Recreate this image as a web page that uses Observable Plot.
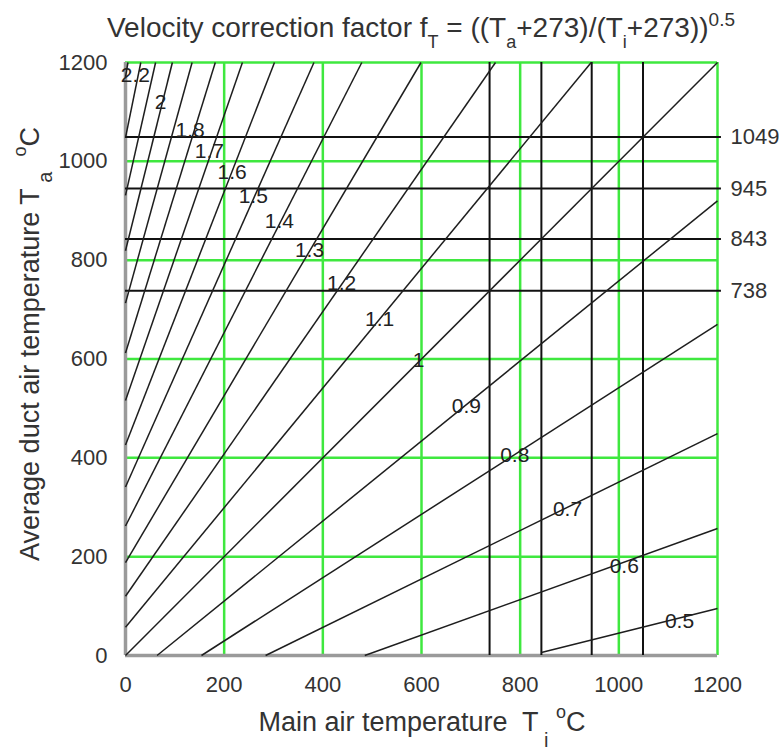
<!DOCTYPE html>
<html>
<head>
<meta charset="utf-8">
<script src="https://cdn.jsdelivr.net/npm/d3@7"></script>
<script src="https://cdn.jsdelivr.net/npm/@observablehq/plot@0.6"></script>
<style>
  html, body { margin: 0; padding: 0; background: white; }
  #chart { width: 779px; height: 751px; }
  text { font-family: "Liberation Sans", Arial, sans-serif; }
</style>
</head>
<body>
<div id="chart"></div>
<script>
// Velocity correction factor values of each straight line (f_T)
const fValues = [0.5, 0.6, 0.7, 0.8, 0.9, 1.0, 1.1, 1.2, 1.3, 1.4, 1.5, 1.6, 1.7, 1.8, 1.9, 2.0, 2.1, 2.2, 2.3];
// line end points (Ti = main air temp, Ta = duct air temp)
const startTi = [843, 485, 284, 154, 64, 0, 0, 0, 0, 0, 0, 0, 0, 0, 0, 0, 0, 0, 0];
const startTa = [6, 0, 0, 0, 0, 0, 57, 120, 188, 262, 341, 426, 516, 612, 713, 819, 931, 1048, 1171];
const endTi = [1200, 1200, 1200, 1200, 1200, 1200, 944, 750, 599, 479, 382, 302, 237, 182, 135, 95, 61, 31, 5];
const endTa = [95, 257, 449, 670, 920, 1200, 1200, 1200, 1200, 1200, 1200, 1200, 1200, 1200, 1200, 1200, 1200, 1200, 1200];

// in-chart labels of the lines
const labelText = ["2.2", "2", "1.8", "1.7", "1.6", "1.5", "1.4", "1.3", "1.2", "1.1", "1", "0.9", "0.8", "0.7", "0.6", "0.5"];
const labelTi = [20, 71, 131, 170, 216, 259, 312, 373, 438, 515, 594, 691, 789, 896, 1011, 1123];
const labelTa = [1174, 1119, 1062, 1020, 978, 929, 879, 821, 753, 680, 597, 505, 405, 295, 181, 69];

// marked reference temperatures
const refTemps = [738, 843, 945, 1049];

// axis ticks / grid
const tickValues = [0, 200, 400, 600, 800, 1000, 1200];
const gridValues = [200, 400, 600, 800, 1000, 1200];

const lines = fValues.map((f, i) => ({f, x1: startTi[i], y1: startTa[i], x2: endTi[i], y2: endTa[i]}));
const labels = labelText.map((t, i) => ({t, x: labelTi[i], y: labelTa[i]}));

const font = "Liberation Sans, Arial, sans-serif";
const green = "#3fe83f";

const chart = Plot.plot({
  width: 779,
  height: 751,
  marginLeft: 125,
  marginRight: 62,
  marginTop: 62,
  marginBottom: 96,
  style: {fontFamily: font, fontSize: "22px", color: "#333", background: "white"},
  x: {domain: [0, 1200]},
  y: {domain: [0, 1200]},
  marks: [
    Plot.ruleX(gridValues, {stroke: green, strokeWidth: 2.5}),
    Plot.ruleY(gridValues, {stroke: green, strokeWidth: 2.5}),
    Plot.ruleX([0], {stroke: "#9a9a9a", strokeWidth: 3.5}),
    Plot.ruleY([0], {stroke: "#9a9a9a", strokeWidth: 3.5}),
    Plot.ruleX(refTemps, {y1: 0, y2: 1200, stroke: "#111", strokeWidth: 2}),
    Plot.ruleY(refTemps, {x1: 0, x2: 1208, stroke: "#111", strokeWidth: 2}),
    Plot.link(lines, {x1: "x1", y1: "y1", x2: "x2", y2: "y2", stroke: "#1e1e1e", strokeWidth: 1.5}),
    Plot.text(labels, {x: "x", y: "y", text: "t", fontSize: 21, fill: "#222"}),
    Plot.text(refTemps, {x: 1200, y: d => d, text: d => String(d), dx: 13, textAnchor: "start", fontSize: 22, fill: "#333"}),
    Plot.axisX(tickValues, {tickSize: 0, tickPadding: 21, fontSize: 22, label: null, fill: "#333", tickFormat: d => String(d)}),
    Plot.axisY(tickValues, {tickSize: 0, tickPadding: 18, fontSize: 22, label: null, fill: "#333", tickFormat: d => String(d)})
  ]
});
document.getElementById("chart").appendChild(chart);

const svg = d3.select(chart);
// Title
const title = svg.append("text")
  .attr("x", 421).attr("y", 37)
  .attr("text-anchor", "middle")
  .attr("font-size", 28)
  .attr("fill", "#333")
  .style("font-family", font);
title.append("tspan").text("Velocity correction factor f");
title.append("tspan").attr("dy", 11).attr("font-size", 18).text("T");
title.append("tspan").attr("dy", -11).text(" = ((T");
title.append("tspan").attr("dy", 11).attr("font-size", 18).text("a");
title.append("tspan").attr("dy", -11).text("+273)/(T");
title.append("tspan").attr("dy", 11).attr("font-size", 18).text("i");
title.append("tspan").attr("dy", -11).text("+273))");
title.append("tspan").attr("dy", -11).attr("font-size", 19).text("0.5");

// X axis title
const xt = svg.append("text")
  .attr("x", 422).attr("y", 731)
  .attr("text-anchor", "middle")
  .attr("font-size", 27)
  .attr("fill", "#333")
  .style("font-family", font);
xt.append("tspan").text("Main air temperature  T");
xt.append("tspan").attr("dy", 16).attr("font-size", 20).text(" i");
xt.append("tspan").attr("dy", -16).text(" ");
xt.append("tspan").attr("dy", -13).attr("font-size", 18).text("o");
xt.append("tspan").attr("dy", 13).text("C");

// Y axis title
const yt = svg.append("text")
  .attr("transform", "translate(39,344) rotate(-90)")
  .attr("text-anchor", "middle")
  .attr("font-size", 27)
  .attr("fill", "#333")
  .style("font-family", font);
yt.append("tspan").text("Average duct air temperature T");
yt.append("tspan").attr("dy", 13).attr("font-size", 20).text(" a");
yt.append("tspan").attr("dy", -13).text("  ");
yt.append("tspan").attr("dy", -13).attr("font-size", 18).text("o");
yt.append("tspan").attr("dy", 13).text("C");
</script>
</body>
</html>
